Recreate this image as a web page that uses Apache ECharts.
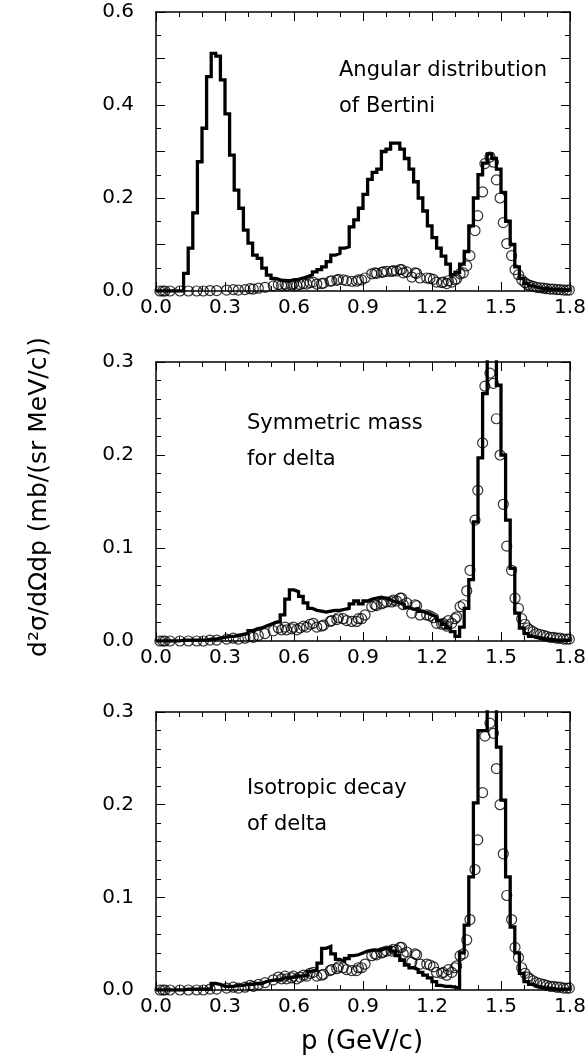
<!DOCTYPE html>
<html>
<head>
<meta charset="utf-8">
<script src="https://cdn.jsdelivr.net/npm/echarts@6/dist/echarts.min.js"></script>
<style>
  html, body { margin: 0; padding: 0; background: #fff; }
  #chart { width: 587px; height: 1061px; }
</style>
</head>
<body>
<div id="chart"></div>
<script>
// Three stacked panels: model histograms (0.02 GeV/c bins) vs. the same measured points.
const FONT = 'DejaVu Sans';
const BIN = 0.02;

// histogram heights per bin, p = 0.00 .. 1.78 (bin start)
const histBertini = [
  0, 0, 0, 0, 0, 0, 0.038, 0.092, 0.168, 0.278,
  0.350, 0.461, 0.511, 0.505, 0.454, 0.381, 0.292, 0.217, 0.178, 0.131,
  0.103, 0.077, 0.070, 0.049, 0.034, 0.027, 0.024, 0.022, 0.022, 0.024,
  0.025, 0.028, 0.031, 0.035, 0.041, 0.046, 0.052, 0.063, 0.077, 0.081,
  0.092, 0.095, 0.138, 0.153, 0.178, 0.208, 0.240, 0.255, 0.262, 0.300,
  0.305, 0.318, 0.318, 0.305, 0.285, 0.262, 0.235, 0.200, 0.172, 0.140,
  0.115, 0.092, 0.075, 0.058, 0.035, 0.040, 0.058, 0.085, 0.140, 0.200,
  0.250, 0.275, 0.295, 0.285, 0.262, 0.212, 0.150, 0.100, 0.052, 0.027,
  0.016, 0.011, 0.008, 0.006, 0.005, 0.004, 0.004, 0.003, 0.003, 0.002
];
const histSymmetric = [
  0, 0, 0, 0, 0, 0.001, 0.001, 0.001, 0.001, 0.001,
  0.001, 0.002, 0.002, 0.003, 0.004, 0.005, 0.005, 0.006, 0.007, 0.008,
  0.011, 0.013, 0.014, 0.016, 0.018, 0.020, 0.021, 0.028, 0.045, 0.055,
  0.053, 0.048, 0.041, 0.035, 0.033, 0.032, 0.031, 0.032, 0.033, 0.033,
  0.034, 0.035, 0.040, 0.043, 0.040, 0.043, 0.045, 0.046, 0.047, 0.046,
  0.044, 0.042, 0.041, 0.039, 0.036, 0.034, 0.035, 0.032, 0.030, 0.028,
  0.026, 0.022, 0.018, 0.014, 0.010, 0.005, 0.015, 0.035, 0.066, 0.128,
  0.197, 0.266, 0.340, 0.340, 0.275, 0.200, 0.130, 0.078, 0.030, 0.014,
  0.008, 0.005, 0.004, 0.003, 0.002, 0.002, 0.001, 0.001, 0.001, 0.001
];
const histIsotropic = [
  0, 0, 0, 0, 0, 0, 0.001, 0.001, 0.001, 0.001,
  0.001, 0.001, 0.007, 0.006, 0.004, 0.004, 0.004, 0.005, 0.005, 0.006,
  0.006, 0.007, 0.007, 0.009, 0.010, 0.011, 0.011, 0.013, 0.013, 0.014,
  0.015, 0.015, 0.016, 0.020, 0.022, 0.029, 0.045, 0.047, 0.039, 0.033,
  0.031, 0.034, 0.037, 0.038, 0.040, 0.042, 0.043, 0.043, 0.043, 0.045,
  0.046, 0.042, 0.037, 0.032, 0.027, 0.024, 0.022, 0.019, 0.016, 0.013,
  0.009, 0.005, 0.004, 0.004, 0.003, 0.002, 0.040, 0.070, 0.122, 0.202,
  0.280, 0.280, 0.340, 0.340, 0.262, 0.205, 0.122, 0.068, 0.040, 0.018,
  0.009, 0.006, 0.004, 0.003, 0.002, 0.002, 0.001, 0.001, 0.001, 0.001
];

// measured points [p (GeV/c), d2sigma], identical in the three panels
const measured = [
  [0.017, 0], [0.030, 0], [0.039, 0], [0.061, 0], [0.104, 0], [0.141, 0],
  [0.177, 0], [0.206, 0], [0.235, 0.001], [0.264, 0.001], [0.307, 0.002],
  [0.336, 0.003], [0.358, 0.002], [0.387, 0.003], [0.409, 0.005], [0.423, 0.004],
  [0.445, 0.006], [0.474, 0.008], [0.510, 0.011], [0.532, 0.014], [0.546, 0.012],
  [0.561, 0.015], [0.568, 0.012], [0.590, 0.013], [0.597, 0.015], [0.612, 0.012],
  [0.626, 0.014], [0.641, 0.016], [0.655, 0.015], [0.670, 0.018], [0.684, 0.019],
  [0.699, 0.015], [0.720, 0.016], [0.728, 0.017], [0.757, 0.021], [0.764, 0.022],
  [0.786, 0.023], [0.793, 0.025], [0.814, 0.024], [0.829, 0.022], [0.851, 0.021],
  [0.872, 0.021], [0.880, 0.024], [0.894, 0.024], [0.909, 0.028], [0.938, 0.037],
  [0.952, 0.039], [0.959, 0.038], [0.981, 0.040], [0.988, 0.041], [1.003, 0.042],
  [1.025, 0.042], [1.032, 0.044], [1.046, 0.043], [1.061, 0.046], [1.068, 0.046],
  [1.075, 0.039], [1.090, 0.041], [1.112, 0.030], [1.126, 0.039], [1.133, 0.038],
  [1.148, 0.028], [1.177, 0.028], [1.191, 0.027], [1.206, 0.025], [1.220, 0.019],
  [1.242, 0.018], [1.249, 0.019], [1.264, 0.016], [1.271, 0.022], [1.286, 0.019],
  [1.300, 0.024], [1.307, 0.026], [1.322, 0.037], [1.336, 0.039], [1.351, 0.054],
  [1.365, 0.076], [1.387, 0.130], [1.399, 0.162], [1.420, 0.213], [1.430, 0.274],
  [1.452, 0.288], [1.467, 0.277], [1.480, 0.239], [1.496, 0.200], [1.510, 0.147],
  [1.525, 0.102], [1.546, 0.076], [1.561, 0.046], [1.576, 0.035], [1.590, 0.024],
  [1.604, 0.018], [1.615, 0.014], [1.626, 0.012], [1.640, 0.010], [1.655, 0.008],
  [1.670, 0.007], [1.685, 0.006], [1.699, 0.005], [1.714, 0.004], [1.728, 0.004],
  [1.743, 0.003], [1.757, 0.003], [1.772, 0.002], [1.786, 0.002], [1.797, 0.002]
];

const panelMax = [0.6, 0.3, 0.3];
const panelNotes = [
  ['Angular distribution', 'of Bertini'],
  ['Symmetric mass', 'for delta'],
  ['Isotropic decay', 'of delta']
];
const X_TICKS = ['0.0', '0.3', '0.6', '0.9', '1.2', '1.5', '1.8'];
const Y_LABEL = 'd\u00b2\u03c3/d\u03a9dp (mb/(sr MeV/c))';
const X_LABEL = 'p (GeV/c)';

// layout (px)
const grids = [
  { left: 156, right: 17, top: 12,  height: 279 },
  { left: 156, right: 17, top: 362, height: 279 },
  { left: 156, right: 17, top: 712, height: 278 }
];
const notePos = [
  { x: 339, y: [60, 96] },
  { x: 247, y: [413, 449] },
  { x: 247, y: [778, 814] }
];

function steps(vals) {
  const pts = vals.map((v, i) => [+(i * BIN).toFixed(2), v]);
  pts.push([1.8, vals[vals.length - 1]]);
  return pts;
}

const black = '#000';
const axLine = { show: true, onZero: false, lineStyle: { color: black, width: 1.5 } };

function xAxis(g, top) {
  return {
    type: 'value', gridIndex: g, min: 0, max: 1.8, interval: 0.3,
    position: top ? 'top' : 'bottom',
    axisLine: axLine,
    axisTick: { show: true, inside: true, length: 9, lineStyle: { color: black, width: 1 } },
    minorTick: { show: true, splitNumber: 3, length: 5, lineStyle: { color: black, width: 1 } },
    splitLine: { show: false }, minorSplitLine: { show: false },
    axisLabel: {
      show: !top, color: black, fontFamily: FONT, fontSize: 20, margin: 7,
      formatter: (v) => X_TICKS[Math.round(v / 0.3)] ?? ''
    }
  };
}

function yAxis(g, right) {
  const max = panelMax[g];
  return {
    type: 'value', gridIndex: g, min: 0, max, interval: 0.1,
    position: right ? 'right' : 'left',
    axisLine: axLine,
    axisTick: { show: true, inside: true, length: 9, lineStyle: { color: black, width: 1 } },
    minorTick: { show: true, splitNumber: max > 0.5 ? 2 : 5, length: 5, lineStyle: { color: black, width: 1 } },
    splitLine: { show: false }, minorSplitLine: { show: false },
    axisLabel: {
      show: !right, color: black, fontFamily: FONT, fontSize: 20, margin: 22,
      formatter: (v) => {
        const t = Math.round(v * 10);
        if (max > 0.5 && t % 2) return '';
        return (t / 10).toFixed(1);
      }
    }
  };
}

const hists = [histBertini, histSymmetric, histIsotropic];
const series = [];
hists.forEach((h, g) => {
  series.push({
    type: 'line', xAxisIndex: g * 2, yAxisIndex: g * 2, data: steps(h),
    step: 'end', showSymbol: false, symbol: 'none', clip: true, silent: true,
    lineStyle: { color: black, width: 3.3, join: 'miter' }, z: 2
  });
  series.push({
    type: 'scatter', xAxisIndex: g * 2, yAxisIndex: g * 2, data: measured,
    symbol: 'circle', symbolSize: 10, silent: true, clip: false,
    itemStyle: { color: 'rgba(0,0,0,0)', borderColor: black, borderWidth: 1.2 }, z: 3
  });
});

const graphic = [];
panelNotes.forEach((lines, g) => {
  lines.forEach((t, k) => {
    graphic.push({
      type: 'text', x: notePos[g].x, y: notePos[g].y[k], silent: true,
      style: { text: t, fill: black, fontFamily: FONT, fontSize: 21, verticalAlign: 'alphabetic', align: 'left' }
    });
  });
});
graphic.push({
  type: 'text', x: 39, y: 497, rotation: Math.PI / 2, silent: true,
  style: { text: Y_LABEL, fill: black, fontFamily: FONT, fontSize: 25, align: 'center', verticalAlign: 'middle' }
});
graphic.push({
  type: 'text', x: 362, y: 1042, silent: true,
  style: { text: X_LABEL, fill: black, fontFamily: FONT, fontSize: 26, align: 'center', verticalAlign: 'middle' }
});

const option = {
  backgroundColor: '#fff',
  animation: false,
  textStyle: { fontFamily: FONT, color: black },
  grid: grids.map(g => ({ ...g, containLabel: false, outerBoundsMode: 'none' })),
  xAxis: [0, 1, 2].flatMap(g => [xAxis(g, false), xAxis(g, true)]),
  yAxis: [0, 1, 2].flatMap(g => [yAxis(g, false), yAxis(g, true)]),
  series,
  graphic
};

const chart = echarts.init(document.getElementById('chart'), null, { renderer: 'canvas' });
chart.setOption(option);
</script>
</body>
</html>
